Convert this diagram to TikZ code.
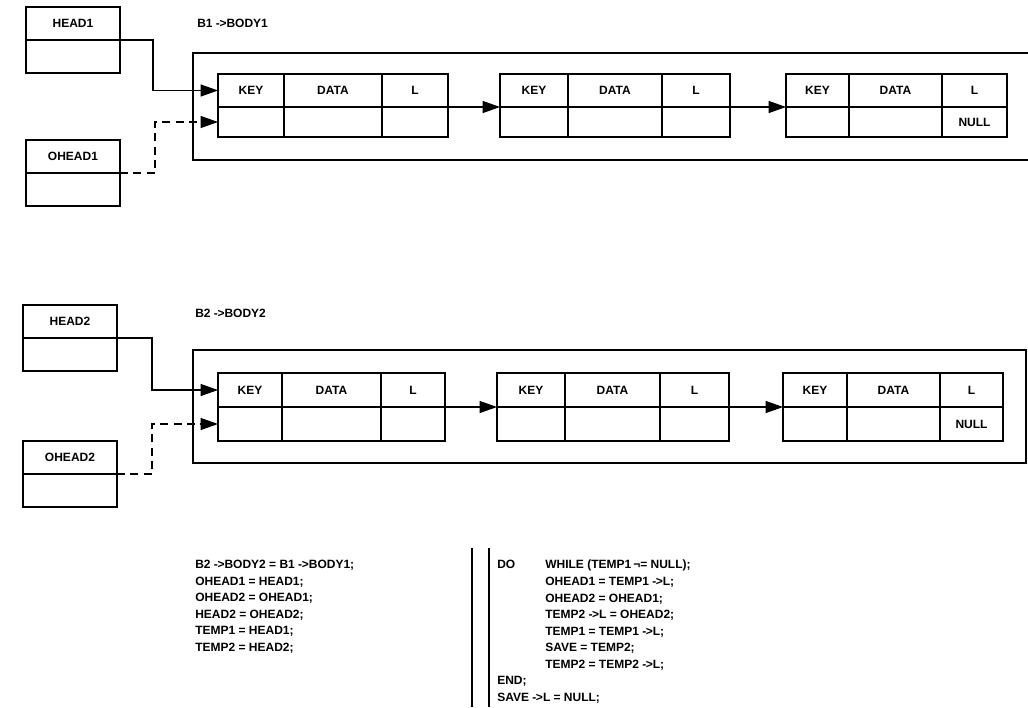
\documentclass[tikz,border=0pt]{standalone}
\usepackage{fontspec}
\setmainfont{Liberation Sans}
\usetikzlibrary{arrows.meta,positioning}
\newcommand\ptrsym{-\kern-0.3pt>}
\tikzset{
  cell/.style={
    draw,
    line width=0.9pt,
    inner sep=0pt,
    outer sep=0pt,
    font=\fontsize{9}{11}\selectfont\bfseries
  },
  ptr/.style={-{Triangle[length=13pt,width=9pt]}, line width=0.8pt},
  optr/.style={ptr, dash pattern=on 6pt off 4pt},
  lbl/.style={anchor=west, inner sep=0pt, font=\fontsize{9}{11}\selectfont\bfseries},
  code/.style={anchor=north west, align=left, inner sep=0pt, font=\fontsize{9}{12.4}\selectfont\bfseries},
  body/.style={line width=0.9pt}
}
% one list record: name, x, y, widths of KEY/DATA/L, heights of the two rows, last field
\newcommand\linkrec[9]{%
  \node[cell, anchor=north west, minimum width=#4*0.75pt, minimum height=#7*0.75pt] (#1k) at (#2,#3) {KEY};
  \node[cell, right=0pt of #1k, minimum width=#5*0.75pt, minimum height=#7*0.75pt] (#1d) {DATA};
  \node[cell, right=0pt of #1d, minimum width=#6*0.75pt, minimum height=#7*0.75pt] (#1l) {L};
  \node[cell, below=0pt of #1k, minimum width=#4*0.75pt, minimum height=#8*0.75pt] (#1kb) {};
  \node[cell, below=0pt of #1d, minimum width=#5*0.75pt, minimum height=#8*0.75pt] (#1db) {};
  \node[cell, below=0pt of #1l, minimum width=#6*0.75pt, minimum height=#8*0.75pt] (#1lb) {#9};
}
% pointer box: name, x, y, text
\newcommand\ptrbox[4]{%
  \node[cell, anchor=north west, minimum width=94*0.75pt, minimum height=33*0.75pt] (#1) at (#2,#3) {#4};
  \node[cell, below=0pt of #1, minimum width=94*0.75pt, minimum height=33*0.75pt] (#1b) {};
}

\begin{document}
\begin{tikzpicture}[x=0.75pt, y=-0.75pt]
  \useasboundingbox (0,0) rectangle (1028,707);

  % first list
  \ptrbox{head1}{26}{7}{HEAD1}
  \ptrbox{ohead1}{26}{140}{OHEAD1}
  \node[lbl] (b1) at (197,23) {B1 \ptrsym BODY1};
  \draw[body] (1028,53) -| (193,160) -- (1028,160);
  \linkrec{p}{218}{74}{66}{98}{66}{33}{30}{}
  \linkrec{q}{500}{74}{68}{94}{68}{33}{30}{}
  \linkrec{r}{786}{74}{63}{93}{65}{33}{30}{NULL}
  \draw[ptr] (head1.south east) -- ++(33,0) |- (pk.west);
  \draw[optr] (ohead1.south east) -- ++(35,0) |- (pkb.west);
  \draw[ptr] (pl.south east) -- (qk.south west);
  \draw[ptr] (ql.south east) -- (rk.south west);

  % second list
  \ptrbox{head2}{23}{305}{HEAD2}
  \ptrbox{ohead2}{23}{441}{OHEAD2}
  \node[lbl] (b2) at (195,313) {B2 \ptrsym BODY2};
  \draw[body] (193,350) rectangle (1026,463);
  \linkrec{s}{218}{373}{64}{99}{64}{34}{34}{}
  \linkrec{t}{497}{373}{68}{95}{69}{34}{34}{}
  \linkrec{u}{783}{373}{64}{93}{63}{34}{34}{NULL}
  \draw[ptr] (head2.south east) -- ++(35,0) |- (sk.west);
  \draw[optr] (ohead2.south east) -- ++(35,0) |- (skb.west);
  \draw[ptr] (sl.south east) -- (tk.south west);
  \draw[ptr] (tl.south east) -- (uk.south west);

  % code
  \draw[body] (472,548) -- (472,707);
  \draw[body] (489,548) -- (489,707);
  \node[code] (setup) at (195,560) {%
    B2 \ptrsym BODY2 = B1 \ptrsym BODY1;\\
    OHEAD1 = HEAD1;\\
    OHEAD2 = OHEAD1;\\
    HEAD2 = OHEAD2;\\
    TEMP1 = HEAD1;\\
    TEMP2 = HEAD2;};
  \node[code] (loop) at (497,560) {%
    \makebox[36pt][l]{DO}WHILE (TEMP1\,¬= NULL);\\
    \hspace*{36pt}OHEAD1 = TEMP1 \ptrsym L;\\
    \hspace*{36pt}OHEAD2 = OHEAD1;\\
    \hspace*{36pt}TEMP2 \ptrsym L = OHEAD2;\\
    \hspace*{36pt}TEMP1 = TEMP1 \ptrsym L;\\
    \hspace*{36pt}SAVE = TEMP2;\\
    \hspace*{36pt}TEMP2 = TEMP2 \ptrsym L;\\
    END;\\
    SAVE \ptrsym L = NULL;};
\end{tikzpicture}
\end{document}
